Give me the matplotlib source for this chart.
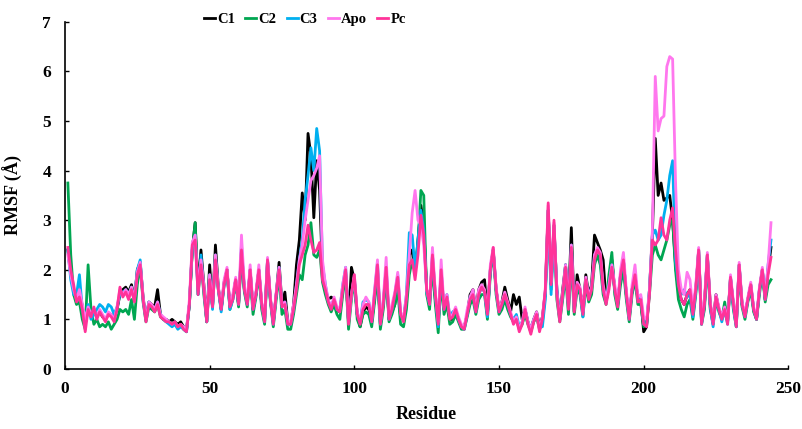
import matplotlib
matplotlib.use("Agg")
import matplotlib.pyplot as plt

residues = list(range(1, 245))

pc = [2.45, 2.0, 1.7, 1.35, 1.45, 1.2, 0.75, 1.2, 1.05, 1.25,
      1.0, 1.15, 1.05, 0.95, 1.1, 1.05, 0.95, 1.2, 1.65, 1.45,
      1.55, 1.4, 1.6, 1.35, 1.9, 2.1, 1.4, 0.95, 1.3, 1.25,
      1.15, 1.3, 1.05, 1.0, 0.95, 0.95, 0.9, 0.95, 0.85, 0.9,
      0.8, 0.75, 1.3, 2.5, 2.6, 1.5, 2.1, 1.6, 0.95, 1.8,
      1.25, 2.2, 1.6, 1.2, 1.7, 2.0, 1.25, 1.4, 1.8, 1.3,
      2.4, 1.6, 1.3, 2.0, 1.2, 1.5, 2.0, 1.3, 0.95, 2.2,
      1.4, 0.9, 1.5, 2.0, 1.25, 1.3, 0.9, 0.9, 1.2, 1.6,
      2.1, 2.3, 2.5, 2.9, 2.6, 2.35, 2.4, 2.55, 1.8, 1.6,
      1.35, 1.2, 1.4, 1.2, 1.15, 1.6, 2.0, 0.9, 1.5, 1.9,
      1.1, 0.9, 1.2, 1.3, 1.3, 0.95, 1.5, 2.1, 0.9, 1.3,
      2.05, 1.0, 1.2, 1.5, 1.85, 1.1, 0.95, 1.4, 2.1, 2.2,
      1.8, 2.3, 3.1, 2.7, 1.6, 1.3, 2.3, 1.5, 0.9, 2.0,
      1.2, 1.45, 1.0, 1.05, 1.2, 1.0, 0.85, 0.8, 1.1, 1.4,
      1.5, 1.15, 1.5, 1.65, 1.55, 1.1, 2.0, 2.45, 1.6, 1.15,
      1.3, 1.5, 1.3, 1.1, 0.9, 1.0, 0.75, 0.9, 1.2, 0.9,
      0.7, 0.95, 1.1, 0.75, 1.0, 1.6, 3.35, 1.7, 3.0, 1.5,
      0.95, 1.5, 2.05, 1.2, 2.45, 1.15, 1.7, 1.6, 1.1, 1.8,
      1.4, 1.6, 2.2, 2.4, 2.3, 1.6, 1.3, 1.6, 2.05, 1.6,
      1.25, 1.9, 2.2, 1.5, 1.0, 1.6, 1.9, 1.35, 1.4, 0.9,
      0.85, 1.5, 2.6, 2.5, 2.6, 3.05, 2.7, 2.6, 3.0, 3.25,
      2.4, 1.7, 1.4, 1.3, 1.5, 1.6, 1.1, 1.6, 2.4, 0.9,
      1.3, 2.3, 1.3, 0.9, 1.45, 1.2, 1.0, 1.2, 0.9, 1.85,
      1.3, 0.85, 2.1, 1.3, 1.05, 1.4, 1.7, 1.2, 1.0, 1.6,
      2.0, 1.4, 1.9, 2.25]

apo = [2.3, 1.9, 1.6, 1.4, 1.6, 1.3, 1.0, 1.25, 1.1, 1.2,
       1.05, 1.2, 1.1, 1.0, 1.15, 1.1, 1.0, 1.25, 1.6, 1.5,
       1.6, 1.5, 1.65, 1.4, 1.95, 2.15, 1.45, 1.0, 1.35, 1.3,
       1.2, 1.35, 1.1, 1.05, 1.0, 0.95, 0.9, 0.95, 0.85, 0.9,
       0.85, 0.8, 1.4, 2.55, 2.7, 1.6, 2.2, 1.7, 1.0, 1.9,
       1.3, 2.3, 1.65, 1.25, 1.8, 2.05, 1.3, 1.5, 1.85, 1.4,
       2.7, 1.7, 1.35, 2.1, 1.25, 1.55, 2.1, 1.35, 1.0, 2.25,
       1.45, 0.95, 1.55, 2.05, 1.3, 1.35, 0.95, 0.95, 1.3, 1.7,
       2.2, 2.5, 3.0, 3.4, 3.8, 3.9, 4.05, 4.3, 2.2, 1.7,
       1.4, 1.25, 1.45, 1.25, 1.2, 1.7, 2.05, 0.95, 1.5, 1.9,
       1.15, 0.95, 1.3, 1.45, 1.35, 1.0, 1.6, 2.2, 0.95, 1.4,
       2.25, 1.05, 1.3, 1.55, 1.95, 1.15, 1.0, 1.5, 2.3, 3.15,
       3.6, 3.0, 2.9, 2.5, 1.6, 1.35, 2.45, 1.55, 0.95, 2.2,
       1.25, 1.5, 1.05, 1.1, 1.25, 1.05, 0.9, 0.85, 1.2, 1.45,
       1.6, 1.2, 1.6, 1.7, 1.6, 1.15, 2.1, 2.45, 1.65, 1.2,
       1.35, 1.55, 1.35, 1.15, 0.95, 1.05, 0.8, 0.95, 1.25, 0.95,
       0.8, 1.0, 1.15, 0.8, 1.05, 1.6, 3.3, 1.75, 2.95, 1.55,
       1.0, 1.55, 2.1, 1.3, 2.5, 1.2, 1.75, 1.65, 1.15, 1.85,
       1.45, 1.65, 2.3, 2.45, 2.35, 1.7, 1.4, 1.7, 2.1, 1.7,
       1.35, 2.0, 2.35, 1.6, 1.05, 1.7, 2.1, 1.45, 1.5, 1.05,
       1.0, 1.6, 2.8, 5.9, 4.8, 5.05, 5.1, 6.1, 6.3, 6.25,
       3.8, 2.0, 1.6, 1.5, 1.95, 1.8, 1.2, 1.7, 2.45, 0.95,
       1.4, 2.35, 1.35, 0.95, 1.5, 1.25, 1.05, 1.25, 0.95, 1.9,
       1.35, 0.9, 2.15, 1.35, 1.1, 1.45, 1.75, 1.25, 1.05, 1.65,
       2.05, 1.45, 2.1, 2.95]

c1 = [2.4, 1.9, 1.6, 1.4, 1.6, 1.25, 0.9, 1.2, 1.1, 1.2,
      1.05, 1.15, 1.05, 1.0, 1.1, 1.1, 1.05, 1.2, 1.5, 1.6,
      1.65, 1.55, 1.7, 1.4, 2.0, 2.15, 1.45, 1.0, 1.35, 1.3,
      1.25, 1.6, 1.1, 1.0, 1.0, 0.95, 1.0, 0.95, 0.9, 0.95,
      0.85, 0.8, 1.3, 2.4, 2.95, 1.6, 2.4, 1.7, 0.95, 2.1,
      1.25, 2.5, 1.65, 1.2, 1.75, 2.0, 1.25, 1.45, 1.8, 1.3,
      2.4, 1.6, 1.35, 2.0, 1.2, 1.5, 2.0, 1.3, 1.0, 2.2,
      1.4, 0.95, 1.5, 2.15, 1.3, 1.55, 0.95, 0.9, 1.3, 2.1,
      2.6, 3.55, 3.0, 4.75, 4.3, 3.05, 4.2, 3.6, 1.9, 1.6,
      1.4, 1.45, 1.4, 1.2, 1.15, 1.6, 1.95, 0.95, 2.05, 1.8,
      1.1, 0.85, 1.15, 1.25, 1.2, 0.95, 1.45, 2.0, 0.9, 1.3,
      1.95, 1.0, 1.15, 1.3, 1.7, 1.05, 1.0, 1.4, 2.3, 2.4,
      1.9, 2.6, 3.3, 2.9, 1.6, 1.35, 2.2, 1.4, 0.95, 1.9,
      1.2, 1.4, 1.0, 1.0, 1.2, 1.0, 0.85, 0.85, 1.1, 1.5,
      1.6, 1.2, 1.6, 1.75, 1.8, 1.1, 2.0, 2.4, 1.6, 1.2,
      1.35, 1.65, 1.4, 1.15, 1.5, 1.3, 1.45, 1.0, 1.2, 0.95,
      0.8, 1.0, 1.15, 0.85, 1.05, 1.55, 3.2, 1.7, 2.9, 1.6,
      1.0, 1.6, 2.1, 1.3, 2.85, 1.15, 1.9, 1.6, 1.15, 1.9,
      1.5, 1.7, 2.7, 2.55, 2.4, 2.2, 1.35, 1.7, 2.2, 1.6,
      1.3, 1.9, 2.2, 1.5, 1.05, 1.6, 1.9, 1.4, 1.4, 0.75,
      0.85, 1.6, 2.7, 4.65, 3.5, 3.75, 3.4, 3.45, 3.5, 3.0,
      2.1, 1.6, 1.4, 1.3, 1.5, 1.6, 1.1, 1.6, 2.4, 0.95,
      1.3, 2.3, 1.3, 0.95, 1.5, 1.2, 1.05, 1.25, 0.95, 1.85,
      1.3, 0.9, 2.1, 1.3, 1.1, 1.4, 1.7, 1.2, 1.0, 1.6,
      2.0, 1.4, 2.0, 2.45]

c2 = [3.75, 2.3, 1.5, 1.3, 1.35, 1.0, 0.8, 2.1, 1.2, 0.9,
      1.0, 0.85, 0.9, 0.85, 0.95, 0.8, 0.9, 1.0, 1.2, 1.15,
      1.2, 1.1, 1.4, 1.0, 1.7, 2.1, 1.35, 0.95, 1.25, 1.2,
      1.15, 1.3, 1.05, 1.0, 0.95, 0.95, 0.9, 0.95, 0.85, 0.9,
      0.8, 0.75, 1.3, 2.4, 2.95, 1.5, 2.2, 1.5, 0.95, 1.8,
      1.25, 2.2, 1.6, 1.2, 1.7, 2.0, 1.2, 1.4, 1.75, 1.25,
      2.3, 1.55, 1.25, 1.9, 1.1, 1.45, 1.95, 1.2, 0.9, 2.1,
      1.35, 0.85, 1.4, 1.9, 1.1, 1.2, 0.8, 0.8, 1.1, 1.5,
      1.9, 1.8, 2.3, 2.5, 2.95, 2.3, 2.25, 2.4, 1.75, 1.5,
      1.3, 1.15, 1.3, 1.1, 1.0, 1.5, 1.9, 0.8, 1.4, 1.8,
      1.0, 0.85, 1.1, 1.15, 1.1, 0.85, 1.35, 1.9, 0.8, 1.2,
      1.9, 0.95, 1.1, 1.3, 1.6, 0.9, 0.85, 1.2, 1.9, 2.2,
      2.0, 2.5, 3.6, 3.5, 1.5, 1.2, 2.1, 1.3, 0.73, 1.8,
      1.1, 1.3, 0.9, 0.95, 1.1, 0.95, 0.8, 0.8, 1.05, 1.3,
      1.4, 1.1, 1.4, 1.5, 1.5, 1.0, 1.9, 2.4, 1.5, 1.1,
      1.2, 1.4, 1.2, 1.05, 0.95, 1.0, 0.8, 0.9, 1.1, 0.9,
      0.75, 0.95, 1.05, 0.8, 0.95, 1.5, 3.2, 1.6, 2.8, 1.4,
      0.95, 1.4, 1.9, 1.1, 2.2, 1.1, 1.6, 1.5, 1.05, 1.7,
      1.35, 1.5, 2.1, 2.3, 2.1, 1.5, 1.3, 1.9, 2.35, 1.5,
      1.2, 1.7, 2.0, 1.4, 0.95, 1.5, 1.8, 1.3, 1.3, 0.85,
      0.9, 1.5, 2.3, 2.5, 2.3, 2.2, 2.4, 2.6, 2.9, 3.0,
      2.0, 1.4, 1.2, 1.05, 1.3, 1.4, 1.0, 1.5, 2.3, 0.9,
      1.2, 2.2, 1.2, 0.9, 1.4, 1.15, 1.0, 1.35, 0.95, 1.8,
      1.2, 0.85, 2.0, 1.25, 1.0, 1.35, 1.6, 1.15, 1.0, 1.5,
      1.95, 1.35, 1.7, 1.8]

c3 = [2.4, 1.8, 1.5, 1.5, 1.9, 1.2, 0.95, 1.3, 1.0, 1.1,
      1.2, 1.3, 1.25, 1.15, 1.3, 1.25, 1.1, 1.25, 1.5, 1.55,
      1.6, 1.5, 1.65, 1.4, 2.0, 2.2, 1.4, 1.0, 1.35, 1.25,
      1.2, 1.35, 1.1, 1.0, 0.95, 0.9, 0.85, 0.9, 0.8, 0.85,
      0.8, 0.75, 1.3, 2.45, 2.7, 1.5, 2.3, 1.6, 0.95, 1.9,
      1.2, 2.3, 1.6, 1.15, 1.7, 2.0, 1.2, 1.4, 1.8, 1.3,
      2.5, 1.6, 1.3, 2.0, 1.2, 1.5, 2.0, 1.3, 0.95, 2.2,
      1.4, 0.9, 1.5, 2.05, 1.25, 1.35, 0.9, 0.9, 1.2, 1.7,
      2.2, 2.6, 3.4, 3.9, 4.46, 4.0, 4.85, 4.4, 2.1, 1.7,
      1.35, 1.3, 1.4, 1.2, 1.2, 1.7, 2.05, 0.95, 1.5, 1.85,
      1.1, 0.95, 1.35, 1.4, 1.35, 0.95, 1.55, 2.15, 0.9, 1.35,
      2.05, 1.0, 1.2, 1.5, 1.9, 1.1, 1.0, 1.5, 2.75, 2.7,
      2.0, 2.6, 3.2, 2.8, 1.55, 1.3, 2.3, 1.5, 0.85, 2.0,
      1.2, 1.5, 1.05, 1.15, 1.2, 1.0, 0.85, 0.8, 1.1, 1.45,
      1.55, 1.15, 1.5, 1.65, 1.55, 1.05, 2.0, 2.4, 1.6, 1.15,
      1.3, 1.5, 1.3, 1.1, 1.0, 1.1, 0.85, 0.95, 1.2, 0.95,
      0.8, 1.0, 1.1, 0.85, 0.85, 1.4, 3.2, 1.5, 2.85, 1.6,
      1.0, 1.5, 2.1, 1.25, 2.5, 1.2, 1.7, 1.6, 1.05, 1.8,
      1.45, 1.65, 2.3, 2.4, 2.3, 1.6, 1.35, 1.7, 2.1, 1.6,
      1.3, 1.9, 2.2, 1.5, 1.0, 1.6, 1.9, 1.4, 1.45, 0.9,
      0.9, 1.6, 2.7, 2.8, 2.6, 2.7, 3.1, 3.4, 3.9, 4.2,
      2.2, 1.7, 1.5, 1.6, 1.45, 1.5, 1.05, 1.55, 2.4, 0.9,
      1.3, 2.3, 1.25, 0.85, 1.45, 1.2, 0.95, 1.2, 0.9, 1.85,
      1.25, 0.85, 2.1, 1.3, 1.05, 1.4, 1.7, 1.2, 1.0, 1.6,
      2.0, 1.4, 2.1, 2.6]

series_names = ["C1", "C2", "C3", "Apo", "Pc"]
series_values = [c1, c2, c3, apo, pc]
series_colors = ["#000000", "#00A651", "#00B0F0", "#FF77EE", "#FF3399"]

x_ticks = [0, 50, 100, 150, 200, 250]
y_ticks = [0, 1, 2, 3, 4, 5, 6, 7]

plt.rcParams['font.family'] = ['Liberation Serif', 'DejaVu Serif']
plt.rcParams['font.weight'] = 'bold'

fig = plt.figure(figsize=(8.02, 4.29), dpi=100)
ax = fig.add_axes([0.081, 0.140, 0.902, 0.809])

for name, vals, col in zip(series_names, series_values, series_colors):
    ax.plot(residues, vals, color=col, lw=2.0, label=name, solid_joinstyle='round')

ax.set_xlim(0, 250)
ax.set_ylim(0, 7)
ax.set_xticks(x_ticks)
ax.set_yticks(y_ticks)
ax.tick_params(direction='in', length=3, width=1, labelsize=12.5)
ax.tick_params(axis='y', pad=10)
ax.tick_params(axis='x', pad=9)
for lbl in ax.get_xticklabels() + ax.get_yticklabels():
    lbl.set_fontweight('bold')
ax.spines['top'].set_visible(False)
ax.spines['right'].set_visible(False)
ax.spines['left'].set_linewidth(1.2)
ax.spines['bottom'].set_linewidth(1.2)

ax.set_xlabel("Residue", fontsize=13, fontweight='bold', labelpad=6)
ax.set_ylabel("RMSF (Å)", fontsize=13, fontweight='bold', labelpad=14)

leg = fig.legend(loc='center', bbox_to_anchor=(0.38, 0.955), ncol=5, frameon=False,
                 handlelength=0.75, handletextpad=0.15, columnspacing=0.7,
                 prop={'weight': 'bold', 'size': 10.5})

fig.savefig("out.png", dpi=100)
